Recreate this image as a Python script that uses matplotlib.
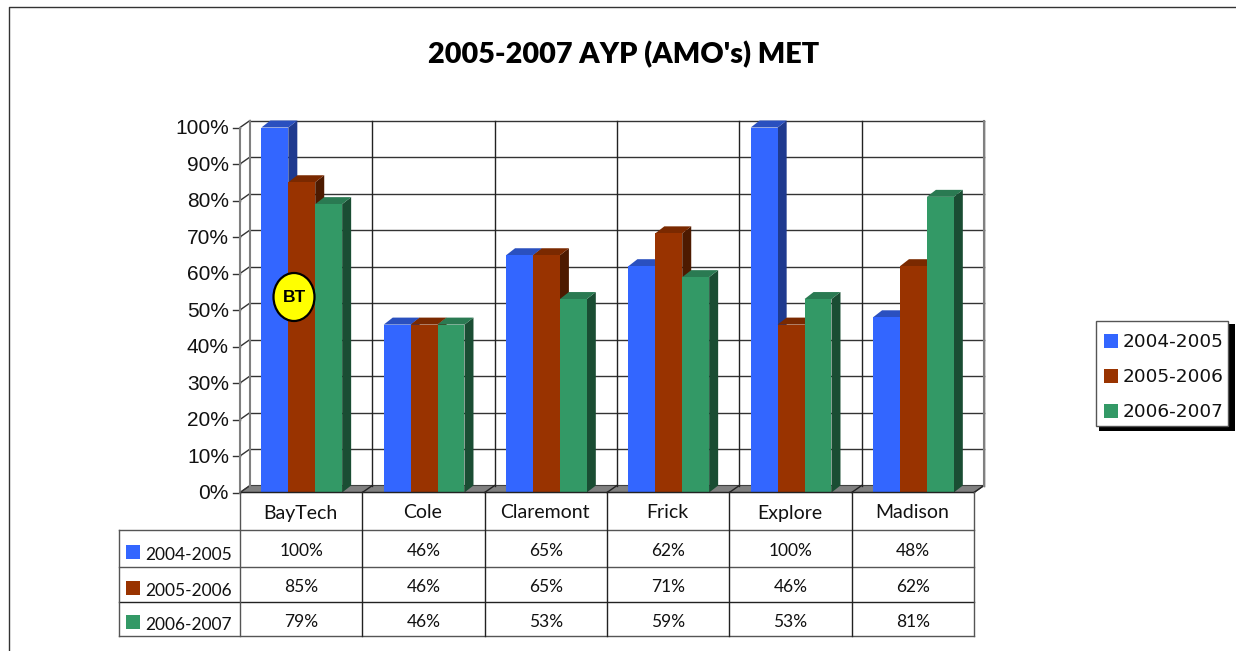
import matplotlib
matplotlib.use("Agg")
import matplotlib.pyplot as plt
from matplotlib.patches import Ellipse, Polygon, Rectangle

schools = ["BayTech", "Cole", "Claremont", "Frick", "Explore", "Madison"]
years = ["2004-2005", "2005-2006", "2006-2007"]
values_2005 = [100, 46, 65, 62, 100, 48]
values_2006 = [85, 46, 65, 71, 46, 62]
values_2007 = [79, 46, 53, 59, 53, 81]
y_ticks = [0, 10, 20, 30, 40, 50, 60, 70, 80, 90, 100]

series = [values_2005, values_2006, values_2007]
front_colors = ["#3366FF", "#993300", "#339966"]
side_colors = ["#1F3A8F", "#4D1A00", "#1A4D33"]
top_colors = ["#2A50BF", "#7A2900", "#2A7A52"]

W, H = 1236, 651
TEXT_FONT = "Lato"
TICK_FONT = "Liberation Sans"

fig = plt.figure(figsize=(W / 100, H / 100), dpi=100)

# overlay in pixel coordinates for frame, table and legend
page = fig.add_axes([0, 0, 1, 1], zorder=5)
page.set_xlim(0, W)
page.set_ylim(H, 0)
page.axis("off")
page.patch.set_alpha(0)

ax = fig.add_axes([240 / W, 1 - 492.5 / H, 734 / W, 365 / H], zorder=2)
ax.set_xlim(0, 6)
ax.set_ylim(0, 100)
ax.axis("off")

# depth of the fake 3d box, in data units
dx = 10 / 122.33
dy = 7 / 3.65

# walls and floor
ax.add_patch(Polygon([(0, 0), (dx, dy), (6 + dx, dy), (6, 0)], closed=True,
                     facecolor="#808080", edgecolor="#404040", lw=0.8, clip_on=False, zorder=1))
for t in y_ticks:
    if t > 0:
        ax.plot([dx, 6 + dx], [t + dy, t + dy], color="#333333", lw=1, clip_on=False, zorder=1)
    ax.plot([0, dx], [t, t + dy], color="#333333", lw=1, clip_on=False, zorder=1)
    ax.plot([-7 / 122.33, 0], [t, t], color="#333333", lw=1, clip_on=False, zorder=1)
    ax.text(-11 / 122.33, t - 0.4, f"{t}%", ha="right", va="center", fontsize=15,
            family=TICK_FONT, color="#111111", clip_on=False)
for i in range(1, 7):
    ax.plot([i + dx, i + dx], [dy, 100 + dy], color="#222222", lw=1, clip_on=False, zorder=1)
    ax.plot([i, i + dx], [0, dy], color="#222222", lw=1, clip_on=False, zorder=1)
ax.plot([6 + dx, 6 + dx], [dy, 100 + dy], color="#808080", lw=1.5, clip_on=False, zorder=1)
ax.plot([0, 0], [0, 100], color="#808080", lw=1.5, clip_on=False, zorder=1)
ax.plot([dx, dx], [dy, 100 + dy], color="#808080", lw=1.5, clip_on=False, zorder=1)

# bars, left to right so the next bar hides the side of the previous one
bar_w = 0.22
z = 3
for c in range(len(schools)):
    for s, vals in enumerate(series):
        v = vals[c]
        left = c + 0.175 + s * bar_w
        right = left + bar_w
        bdx = 9 / 122.33
        ax.add_patch(Polygon([(right, 0), (right + bdx, dy), (right + bdx, v + dy), (right, v)],
                             closed=True, facecolor=side_colors[s], edgecolor="none",
                             clip_on=False, zorder=z))
        ax.add_patch(Polygon([(left, v), (left + bdx, v + dy), (right + bdx, v + dy), (right, v)],
                             closed=True, facecolor=top_colors[s], edgecolor="none",
                             clip_on=False, zorder=z))
        ax.bar(left, v, width=bar_w, align="edge", color=front_colors[s], clip_on=False, zorder=z + 0.5)
        z += 1

# BT badge
page.add_patch(Ellipse((294, 297), 41, 48, facecolor="#FFFF00", edgecolor="black", lw=1.6))
page.text(295, 298, "BT", ha="center", va="center", fontsize=12.5, fontweight="bold",
          family=TICK_FONT, color="black")

# outer frame
page.plot([9, 9, 1236], [651, 7, 7], color="#333333", lw=1)

page.text(623.5, 55, "2005-2007 AYP (AMO's) MET", ha="center", va="center", fontsize=20.7,
          fontweight="heavy", family=TEXT_FONT, color="black")

# data table under the axis
col_x = [240 + i * 734 / 6 for i in range(7)]
row_y = [530, 567, 602, 636]
line_col = "#555555"
page.plot([240, 974], [492, 492], color="#222222", lw=1)
page.plot([119, 974], [530, 530], color=line_col, lw=1)
page.plot([119, 974], [567, 567], color=line_col, lw=1)
page.plot([119, 974], [602, 602], color="#222222", lw=1)
page.plot([119, 974], [636, 636], color=line_col, lw=1)
page.plot([119, 119], [530, 636], color=line_col, lw=1)
for i, x in enumerate(col_x):
    page.plot([x, x], [492, 636], color="#222222" if 0 < i < 6 else line_col, lw=1)

for i, name in enumerate(schools):
    page.text((col_x[i] + col_x[i + 1]) / 2 - 1, 513, name, ha="center", va="center", fontsize=14,
              family=TEXT_FONT, color="#111111")
for r, vals in enumerate(series):
    cy = (row_y[r] + row_y[r + 1]) / 2
    page.add_patch(Rectangle((126, cy - 4), 14, 14, facecolor=front_colors[r], edgecolor="none"))
    page.text(145, cy + 6, years[r], ha="left", va="center", fontsize=12.5,
              family=TEXT_FONT, color="#111111")
    for i, v in enumerate(vals):
        page.text((col_x[i] + col_x[i + 1]) / 2, cy + 3, f"{v}%", ha="center", va="center",
                  fontsize=12.5, family=TEXT_FONT, color="#111111")

# legend with hard shadow
page.add_patch(Rectangle((1099, 324), 136, 107, facecolor="black", edgecolor="none"))
page.add_patch(Rectangle((1096, 321), 132, 105, facecolor="white", edgecolor="#555555", lw=1))
for r, year in enumerate(years):
    cy = 341 + r * 35
    page.add_patch(Rectangle((1104, cy - 7), 14, 14, facecolor=front_colors[r], edgecolor="none"))
    page.text(1123, cy + 1, year, ha="left", va="center", fontsize=13.3, family="DejaVu Sans", color="#111111")

fig.savefig("out.png", dpi=100, facecolor="white")
